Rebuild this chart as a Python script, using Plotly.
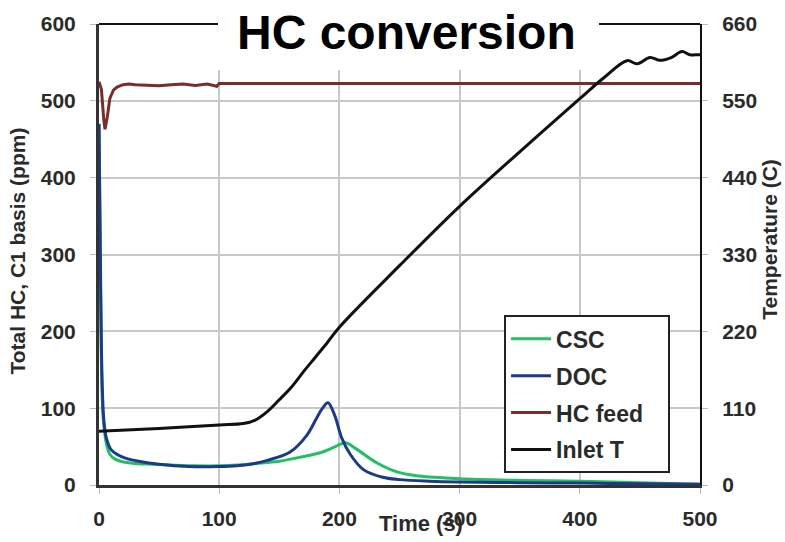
import plotly.graph_objects as go

# ---- data ----
csc_t = [0, 1, 2, 3, 4, 6, 9, 13, 18, 30, 45, 60, 80, 100, 115, 130, 150, 167, 186, 198, 205, 214, 231, 248, 264, 280, 300, 350, 400, 450, 500]
csc_v = [470, 300, 160, 100, 78, 55, 40, 34, 31, 28, 27, 26, 25, 25, 26, 28, 31, 36, 43, 51, 55, 47, 29, 17, 12, 10, 8, 6, 5, 3, 1]

doc_t = [0, 1, 2, 3, 4, 6, 10, 16, 22, 33, 50, 75, 100, 115, 126, 140, 159, 173, 181, 186, 190.5, 196, 202, 209, 220, 236, 250, 275, 300, 350, 400, 450, 500]
doc_v = [470, 320, 180, 115, 85, 62, 46, 39, 35, 31, 27, 24, 24, 25, 27, 32, 43, 65, 87, 100, 107, 91, 61, 40, 20, 10, 7, 5, 4, 3, 2.5, 1.5, 1]

feed_t = [0, 2, 4, 5, 7, 9, 12, 15, 20, 25, 30, 40, 50, 60, 70, 80, 90, 98, 100, 500]
feed_v = [525, 515, 475, 463, 480, 503, 514, 518, 521, 522, 521, 520, 519.5, 521, 522, 520, 522, 519, 522.5, 522.5]

temp_t = [0, 50, 100, 120, 130, 140, 150, 160, 170, 180, 190, 200, 250, 300, 350, 400, 420, 439.3, 447.6, 458.4, 466.7, 476, 485, 491.7, 498.3, 500]
temp_v = [77, 81, 86, 88, 93, 105, 122, 140, 162, 183, 204, 226, 314, 399, 477, 553, 583, 607.5, 603, 612, 608, 612, 620.5, 616, 616, 616]

series_names = ["CSC", "DOC", "HC feed", "Inlet T"]
colors = ["#25bf63", "#1c3a8a", "#7a2b2b", "#111111"]

FONT = "Liberation Sans"
TXT = "#2a2a2a"

fig = go.Figure()
fig.add_trace(go.Scatter(x=csc_t, y=csc_v, name=series_names[0], mode="lines",
                         line=dict(color=colors[0], width=3), line_shape="spline", legendgroup="a"))
fig.add_trace(go.Scatter(x=doc_t, y=doc_v, name=series_names[1], mode="lines",
                         line=dict(color=colors[1], width=3), line_shape="spline", legendgroup="b"))
fig.add_trace(go.Scatter(x=feed_t, y=feed_v, name=series_names[2] + "\u00a0\u00a0\u00a0", mode="lines",
                         line=dict(color=colors[2], width=3), legendgroup="c"))
fig.add_trace(go.Scatter(x=temp_t, y=temp_v, name=series_names[3], mode="lines", yaxis="y2",
                         line=dict(color=colors[3], width=3), line_shape="spline", legendgroup="d"))

tickfont = dict(family=FONT, size=21, color=TXT, weight="bold")

MT, MB = 21, 51
fig.update_layout(
    width=785, height=542,
    margin=dict(l=99, r=85, t=MT, b=MB),
    paper_bgcolor="white", plot_bgcolor="white",
    showlegend=True,
    legend=dict(x=0.674, y=0.368, xanchor="left", yanchor="top",
                bordercolor="#222", borderwidth=2, bgcolor="white",
                font=dict(family=FONT, size=23, color=TXT, weight="bold"),
                traceorder="grouped", tracegroupgap=4, itemwidth=40),
    xaxis=dict(range=[0, 500], dtick=100, showgrid=True, gridcolor="#c8c8c8", gridwidth=1.5,
               showline=True, linecolor="#333", linewidth=3, mirror=False,
               ticks="outside", ticklen=6, tickcolor="#bbb", tickfont=tickfont,
               ticklabelstandoff=7, zeroline=False),
    yaxis=dict(range=[0, 600], dtick=100, showgrid=True, gridcolor="#c8c8c8", gridwidth=1.5,
               showline=True, linecolor="#333", linewidth=3,
               ticks="outside", ticklen=6, tickcolor="#bbb", tickfont=tickfont,
               ticklabelstandoff=10, zeroline=False),
    yaxis2=dict(range=[0, 660], dtick=110, overlaying="y", side="right", showgrid=False,
                showline=True, linecolor="#111", linewidth=2,
                ticks="outside", ticklen=6, tickcolor="#bbb", tickfont=tickfont,
                ticklabelstandoff=10, zeroline=False),
)

PH = 542 - MT - MB
BOT = 542 - MB

# top frame line
fig.add_shape(type="line", xref="paper", yref="paper", x0=0, x1=1, y0=1, y1=1,
              line=dict(color="#111", width=2))
# white title box
fig.add_shape(type="rect", xref="paper", yref="paper", x0=0.198, x1=0.832,
              y0=(BOT - 68) / PH, y1=1.06,
              fillcolor="white", line=dict(width=0), layer="above")

fig.add_annotation(text="HC conversion", xref="paper", yref="paper", x=0.512, y=(BOT - 30) / PH,
                   xanchor="center", yanchor="middle", showarrow=False,
                   font=dict(family=FONT, size=48, color="black", weight="bold"))
fig.add_annotation(text="Total HC, C1 basis (ppm)", xref="paper", yref="paper",
                   x=(18 - 99) / 601, y=(BOT - 253) / PH, textangle=-90,
                   xanchor="center", yanchor="middle", showarrow=False,
                   font=dict(family=FONT, size=21, color=TXT, weight="bold"))
fig.add_annotation(text="Temperature (C)", xref="paper", yref="paper",
                   x=(770 - 99) / 601, y=(BOT - 240) / PH, textangle=-90,
                   xanchor="center", yanchor="middle", showarrow=False,
                   font=dict(family=FONT, size=21, color=TXT, weight="bold"))
fig.add_annotation(text="Time (s)", xref="paper", yref="paper",
                   x=(421 - 99) / 601, y=(BOT - 530) / PH,
                   xanchor="center", yanchor="middle", showarrow=False,
                   font=dict(family=FONT, size=22, color=TXT, weight="bold"))

fig.write_html("out.html")
